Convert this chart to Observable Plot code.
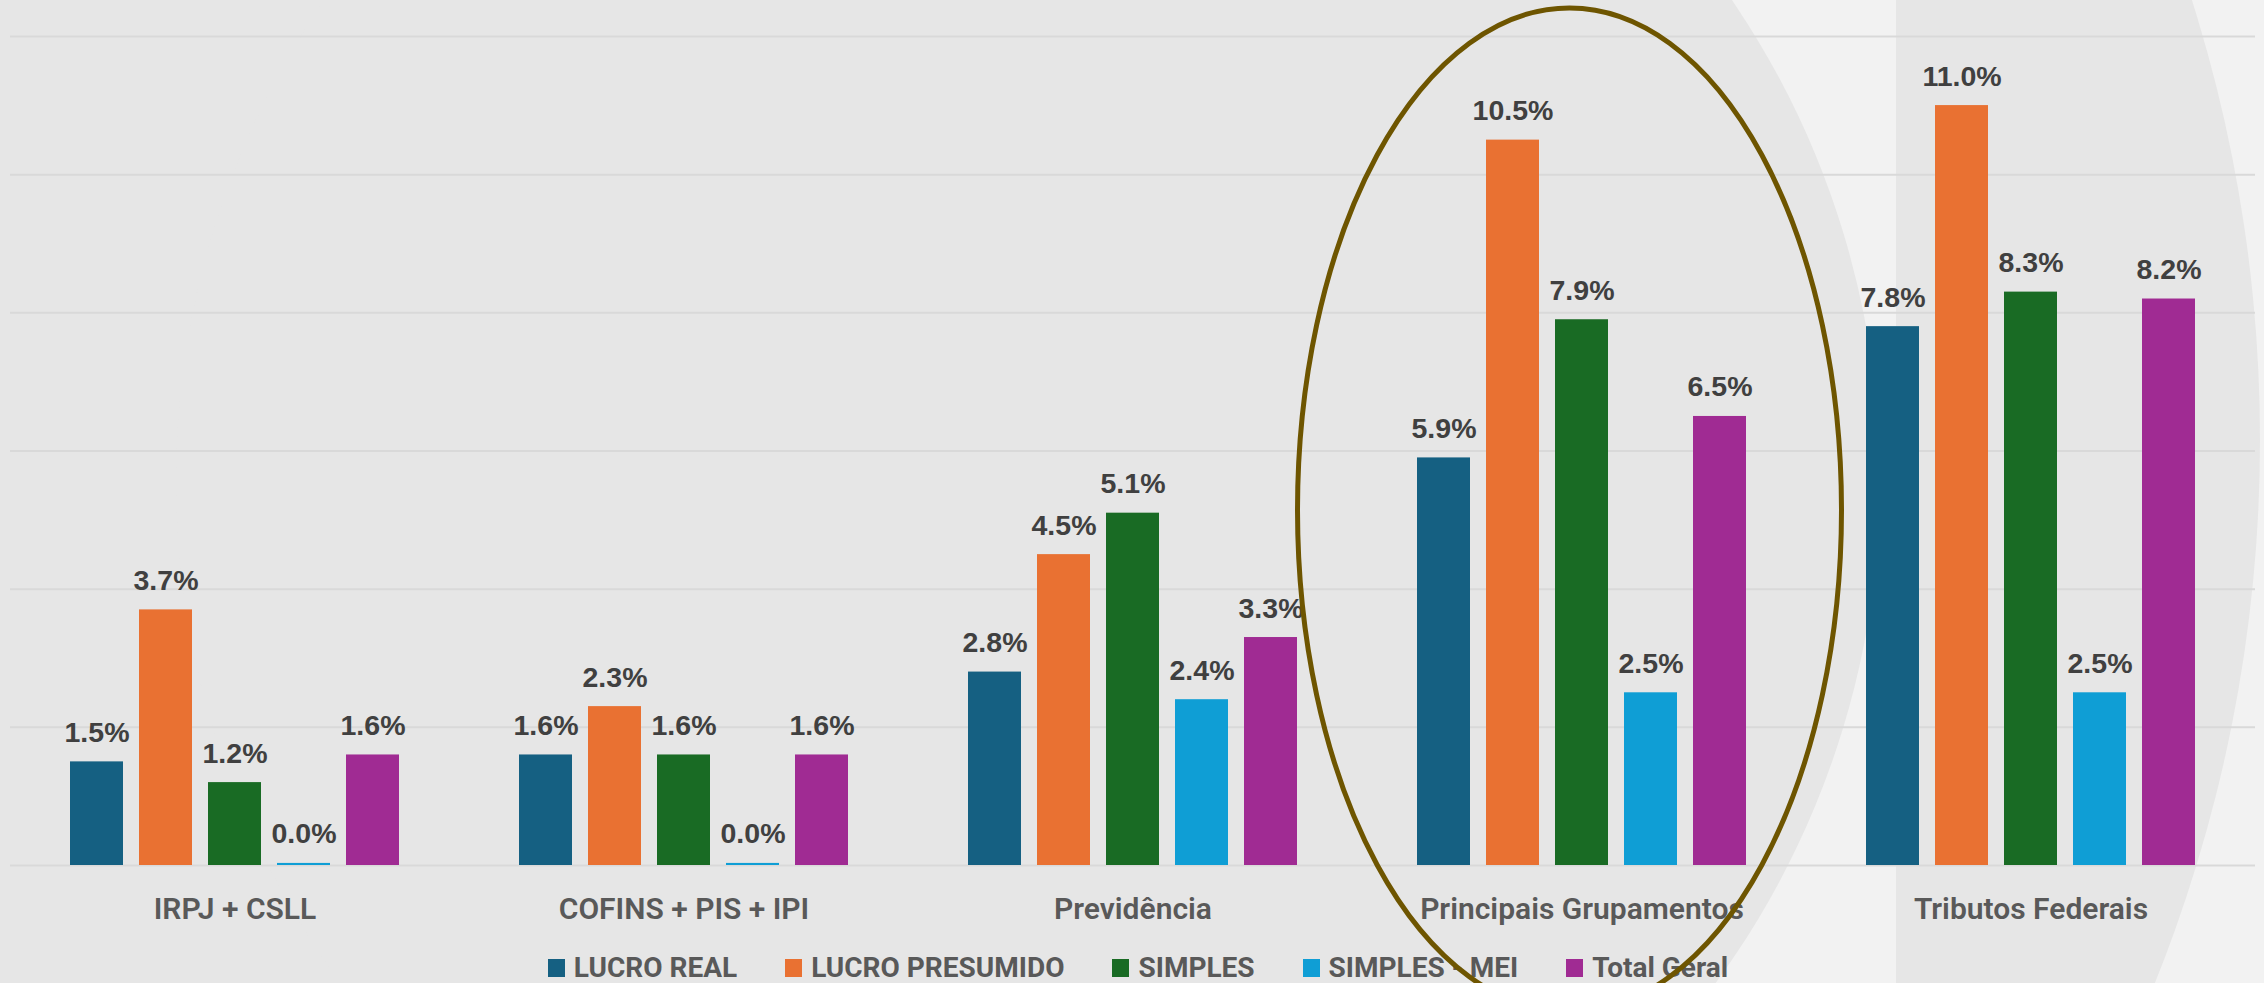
<!DOCTYPE html>
<html>
<head>
<meta charset="utf-8">
<script src="https://cdn.jsdelivr.net/npm/d3@7"></script>
<script src="https://cdn.jsdelivr.net/npm/@observablehq/plot@0.6"></script>
<style>
  html, body { margin: 0; padding: 0; background: #f2f2f2; }
  #wrap { position: relative; width: 2264px; height: 983px; overflow: hidden; }
  #bg, #chart, #overlay { position: absolute; left: 0; top: 0; }
  #overlay { pointer-events: none; }
  #legend {
    position: absolute; left: 6px; top: 955px; width: 2264px; height: 26px;
    display: flex; justify-content: center; align-items: center;
    font-family: Roboto, "Liberation Sans", sans-serif; font-weight: 700;
    font-size: 28px; line-height: 26px; color: #595959;
  }
  .item { display: flex; align-items: center; margin: 0 24px; }
  .sw { width: 17px; height: 18px; margin-right: 9px; }
</style>
</head>
<body>
<div id="wrap">
  <svg id="bg" width="2264" height="983"></svg>
  <div id="chart"></div>
  <div id="legend"></div>
  <svg id="overlay" width="2264" height="983"></svg>
</div>
<script>
// ---- data ----
const categories = ["IRPJ + CSLL", "COFINS + PIS + IPI", "Previdência", "Principais Grupamentos", "Tributos Federais"];
const series = ["LUCRO REAL", "LUCRO PRESUMIDO", "SIMPLES", "SIMPLES - MEI", "Total Geral"];
const lucroReal      = [1.5, 1.6, 2.8, 5.9, 7.8];
const lucroPresumido = [3.7, 2.3, 4.5, 10.5, 11.0];
const simples        = [1.2, 1.6, 5.1, 7.9, 8.3];
const simplesMei     = [0.03, 0.03, 2.4, 2.5, 2.5];
const totalGeral     = [1.6, 1.6, 3.3, 6.5, 8.2];
const colors = ["#156082", "#E97132", "#196B24", "#0F9ED5", "#A02B93"];
const yTicks = [0, 2, 4, 6, 8, 10, 12];
const highlighted = "Principais Grupamentos";

const seriesValues = [lucroReal, lucroPresumido, simples, simplesMei, totalGeral];
const data = [];
categories.forEach((c, i) => series.forEach((s, j) => data.push({category: c, series: s, value: seriesValues[j][i]})));

// ---- decorative background ----
const bg = d3.select("#bg");
bg.append("rect").attr("width", 2264).attr("height", 983).attr("fill", "#f2f2f2");
bg.append("rect").attr("x", 0).attr("y", 0).attr("width", 1028).attr("height", 983).attr("fill", "#e6e6e6");
bg.append("circle").attr("cx", 1028).attr("cy", 480).attr("r", 852).attr("fill", "#e6e6e6");
const defs = bg.append("defs");
defs.append("clipPath").attr("id", "rclip").append("rect").attr("x", 1896).attr("y", 0).attr("width", 400).attr("height", 983);
bg.append("circle").attr("cx", 805).attr("cy", 440).attr("r", 1455).attr("fill", "#e6e6e6").attr("clip-path", "url(#rclip)");

// ---- chart ----
const chart = Plot.plot({
  width: 2264,
  height: 940,
  marginTop: 36,
  marginBottom: 75,
  marginLeft: 9,
  marginRight: 8,
  style: {background: "transparent", overflow: "visible"},
  fx: {domain: categories, padding: 0, label: null},
  x: {domain: series, paddingInner: 0.23, paddingOuter: 0.857, axis: null},
  y: {domain: [0, 12], axis: null},
  color: {domain: series, range: colors},
  marks: [
    Plot.gridY(yTicks, {stroke: "#d9d9d9", strokeOpacity: 1, strokeWidth: 2}),
    Plot.barY(data, {fx: "category", x: "series", y: "value", fill: "series"}),
    Plot.text(data, {
      fx: "category", x: "series", y: "value",
      text: d => d.value.toFixed(1) + "%",
      lineAnchor: "bottom", dy: -20,
      fontSize: 28.5, fontWeight: 700, fill: "#404040",
      fontFamily: "'Liberation Sans', Arial, sans-serif"
    }),
    Plot.axisFx({
      anchor: "bottom", tickSize: 0, tickPadding: 32, label: null,
      fontSize: 30, fontWeight: 600, fill: "#595959",
      fontFamily: "Roboto, sans-serif"
    })
  ]
});
document.getElementById("chart").appendChild(chart);

// ---- highlight ellipse (positioned from the fx / y scales) ----
const fx = chart.scale("fx");
const y = chart.scale("y");
const cx = fx.apply(highlighted) + fx.bandwidth / 2 - 12;
const base = y.apply(0);
d3.select("#overlay").append("ellipse")
  .attr("cx", cx).attr("cy", base - 355)
  .attr("rx", 272).attr("ry", 502)
  .attr("fill", "none").attr("stroke", "#6e5500").attr("stroke-width", 5);

// ---- legend ----
const legend = d3.select("#legend");
series.forEach((s, i) => {
  const it = legend.append("div").attr("class", "item");
  it.append("div").attr("class", "sw").style("background", colors[i]);
  it.append("span").text(s);
});
</script>
</body>
</html>
